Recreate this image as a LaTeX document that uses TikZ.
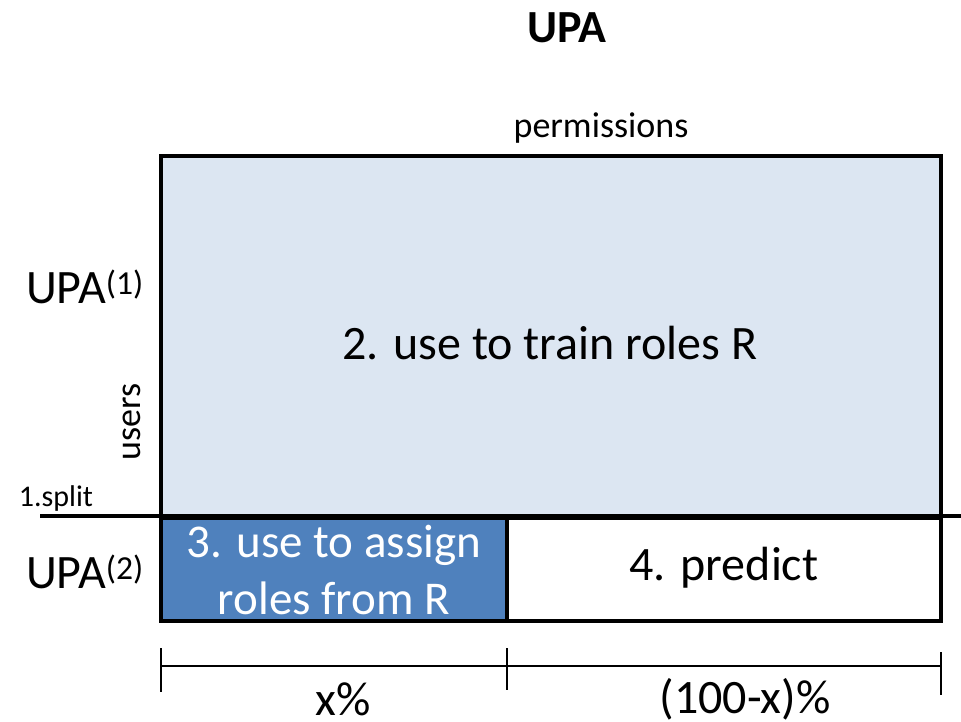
\documentclass[tikz,border=0pt]{standalone}
\usepackage{fontspec}
\setmainfont{Carlito}
\definecolor{lightblue}{HTML}{DCE6F2}
\definecolor{midblue}{HTML}{4F81BD}
\begin{document}
\begin{tikzpicture}[x=1pt,y=-1pt,
  thickbox/.style={draw=black,line width=4pt},
  scaleline/.style={draw=black,line width=1.5pt},
  lbl/.style={inner sep=0pt,font=\fontsize{36}{40}\selectfont},
  big/.style={inner sep=0pt,font=\fontsize{48}{56}\selectfont},
]
\useasboundingbox[fill=white] (0,0) rectangle (961,722);
% top matrix
\draw[thickbox,fill=lightblue] (161,156) rectangle (941,516);
% bottom boxes
\draw[thickbox,fill=midblue] (161,518) rectangle (507,621);
\draw[thickbox,fill=white] (507,518) rectangle (941,621);
% split line
\coordinate (splitL) at (40,516);
\coordinate (splitR) at (961,516);
\draw[line width=4pt] (splitL) -- (splitR);
% scale
\coordinate (s0) at (161,666);
\coordinate (s1) at (507,666);
\coordinate (s2) at (941,666);
\coordinate (t0a) at (161,648); \coordinate (t0b) at (161,692);
\coordinate (t1a) at (507,648); \coordinate (t1b) at (507,690);
\coordinate (t2a) at (941,652); \coordinate (t2b) at (941,695);
\draw[scaleline] (s0) -- (s2);
\draw[scaleline] (t0a) -- (t0b);
\draw[scaleline] (t1a) -- (t1b);
\draw[scaleline] (t2a) -- (t2b);
% texts
\node[inner sep=0pt,font=\fontsize{46}{50}\selectfont\bfseries] (title) at (567,28) {UPA};
\node[lbl] (perm) at (601,128) {permissions};
\node[big] (upa1) at (85,287) {UPA\textsuperscript{(1)}};
\node[lbl,rotate=90] (users) at (132,422) {users};
\node[inner sep=0pt,font=\fontsize{30}{34}\selectfont] (split) at (56,498) {1.split};
\node[big] (upa2) at (85,572) {UPA\textsuperscript{(2)}};
\node[big] (train) at (550,343) {2. use to train roles R};
\node[big,text=white,align=center,font=\fontsize{47}{57}\selectfont] (assign) at (334,570) {3. use to assign\\roles from R};
\node[big] (predict) at (724,568) {4. predict};
\node[big] (xp) at (343,699) {x\%};
\node[big] (rest) at (745,699) {(100-x)\%};
\end{tikzpicture}
\end{document}
